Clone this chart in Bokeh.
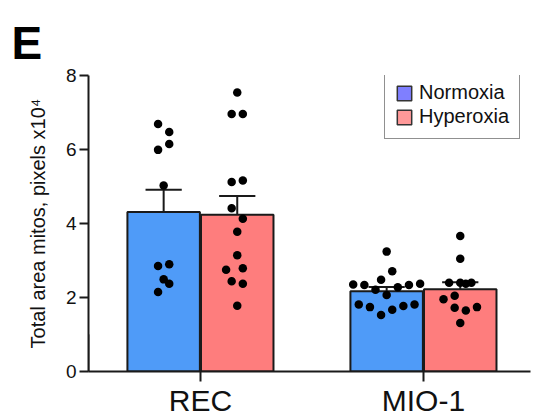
import numpy as np
from bokeh.plotting import figure
from bokeh.models import (Range1d, FixedTicker, Legend, LegendItem)
from bokeh.embed import file_html
from bokeh.resources import INLINE

# ---- data ----
categories = ["REC", "MIO-1"]
groups = ["Normoxia", "Hyperoxia"]

rec_normoxia = [6.69, 6.47, 6.15, 5.99, 5.03, 2.85, 2.90, 2.49, 2.37, 2.15]
rec_normoxia_jit = [-1, 1, 1, -1, 0, -1, 1, 0, 1, -1]

rec_hyperoxia = [7.54, 6.96, 6.96, 5.12, 5.16, 4.41, 4.13, 3.78, 3.14, 2.75, 2.79, 2.44, 2.37, 1.78]
rec_hyperoxia_jit = [0, -1, 1, -1, 1, -1, 1, 0, 0, -2, 1, -1, 1, 0]

mio_normoxia = [3.24, 2.71, 2.48, 2.35, 2.34, 2.34, 2.37, 2.28, 2.21, 2.07, 1.81, 1.74, 1.53, 1.67, 1.77, 1.81]
mio_normoxia_jit = [0, 1, -1, -6, -4, 4, 6, 2, -2, 0, -5, -3, -1, 1, 3, 5]

mio_hyperoxia = [3.66, 3.05, 2.40, 2.40, 2.40, 2.37, 2.05, 1.95, 1.72, 1.65, 1.74, 1.31]
mio_hyperoxia_jit = [0, 0, -2, 0, 2, 1, -1, -3, -1, 1, 3, 0]

y_ticks = [0, 2, 4, 6, 8]

# ---- styling ----
bar_colors = {"Normoxia": "#4f9bf8", "Hyperoxia": "#fe7d7d"}
legend_colors = {"Normoxia": "#7f7fff", "Hyperoxia": "#ff9999"}
ink = "#1a1a1a"
font = "Liberation Sans"
group_offset = {"Normoxia": -0.165, "Hyperoxia": 0.165}
bar_w = 0.325
jit_unit = 0.025

series = {
    ("REC", "Normoxia"): (rec_normoxia, rec_normoxia_jit),
    ("REC", "Hyperoxia"): (rec_hyperoxia, rec_hyperoxia_jit),
    ("MIO-1", "Normoxia"): (mio_normoxia, mio_normoxia_jit),
    ("MIO-1", "Hyperoxia"): (mio_hyperoxia, mio_hyperoxia_jit),
}

p = figure(width=534, height=419, output_backend="svg", toolbar_location=None,
           x_range=Range1d(0.498, 2.48), y_range=Range1d(0, 8),
           min_border_left=88, min_border_right=4, min_border_top=75, min_border_bottom=48)
p.outline_line_color = None
p.xgrid.visible = False
p.ygrid.visible = False
p.background_fill_color = "white"
p.border_fill_color = "white"

# panel letter as title
p.title.text = "E"
p.title.text_font = font
p.title.text_font_size = "46px"
p.title.text_font_style = "bold"
p.title.text_color = "#000000"
p.title.align = "left"
p.title.vertical_align = "top"
p.title.offset = -77
p.title.standoff = 10

bx, btop, bcol = [], [], []
ex, elo, ehi = [], [], []
dx, dy = [], []
for ci, cat in enumerate(categories):
    for g in groups:
        vals, jit = series[(cat, g)]
        arr = np.array(vals)
        mean = arr.mean()
        sem = arr.std(ddof=1) / np.sqrt(len(arr))
        xc = ci + 1 + group_offset[g]
        bx.append(xc); btop.append(mean); bcol.append(bar_colors[g])
        ex.append(xc); elo.append(mean); ehi.append(mean + sem)
        for v, j in zip(vals, jit):
            dx.append(xc + j * jit_unit); dy.append(v)

p.vbar(x=bx, top=btop, width=bar_w, bottom=0, fill_color=bcol,
       line_color=ink, line_width=2)
p.segment(x0=ex, y0=elo, x1=ex, y1=ehi, line_color=ink, line_width=2)
p.segment(x0=[x - bar_w / 4 for x in ex], y0=ehi, x1=[x + bar_w / 4 for x in ex], y1=ehi,
          line_color=ink, line_width=2)
p.scatter(x=dx, y=dy, size=8.5, fill_color="#000000", line_color=None)

# legend with swatch colours (proxy bars placed outside the visible range)
items = []
for g in groups:
    r = p.vbar(x=[-10], top=[1], width=0.1, fill_color=legend_colors[g],
               line_color="#333333", line_width=1.5)
    items.append(LegendItem(label=g, renderers=[r]))
legend = Legend(items=items, location=(296, 232), glyph_width=18, glyph_height=18,
                label_text_font=font, label_text_font_size="20px", label_text_color="#111111",
                padding=10, spacing=1, label_standoff=6, margin=0,
                border_line_color="#222222", border_line_width=1.5,
                background_fill_color="white", background_fill_alpha=1)
p.add_layout(legend, "center")

# axes
xa = p.xaxis[0]
xa.ticker = FixedTicker(ticks=[1, 2])
xa.major_label_overrides = {1: "REC", 2: "MIO-1"}
xa.major_label_text_font = font
xa.major_label_text_font_size = "30px"
xa.major_label_text_color = "#111111"
xa.major_tick_out = 10
xa.major_tick_in = 0
xa.minor_tick_line_color = None
xa.axis_line_width = 2
xa.axis_line_color = ink
xa.major_tick_line_width = 2
xa.major_tick_line_color = ink
xa.major_label_standoff = 2

ya = p.yaxis[0]
ya.ticker = FixedTicker(ticks=y_ticks)
ya.major_label_text_font = font
ya.major_label_text_font_size = "19px"
ya.major_label_text_color = "#111111"
ya.major_tick_out = 9
ya.major_tick_in = 0
ya.minor_tick_line_color = None
ya.axis_line_width = 2
ya.axis_line_color = ink
ya.major_tick_line_width = 2
ya.major_tick_line_color = ink
ya.major_label_standoff = 3
ya.axis_label = "Total area mitos, pixels x10\u2074"
ya.axis_label_text_font = font
ya.axis_label_text_font_size = "20px"
ya.axis_label_text_font_style = "normal"
ya.axis_label_text_color = "#111111"
ya.axis_label_standoff = 14

open("out.html", "w").write(file_html(p, INLINE))
